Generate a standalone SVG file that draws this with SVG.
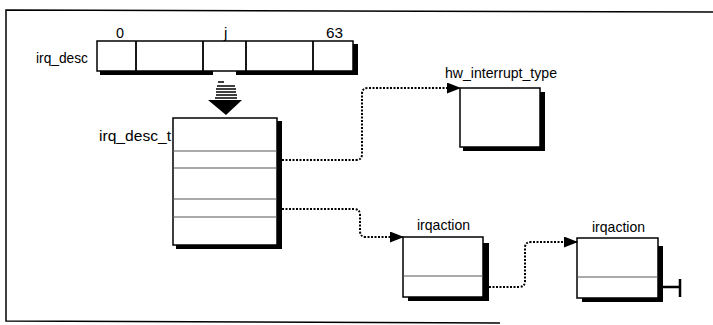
<svg xmlns="http://www.w3.org/2000/svg" width="713" height="325" viewBox="0 0 713 325">
<style>
  .lbl { font-family: "Liberation Sans", Arial, sans-serif; font-size: 14.5px; fill: #000; }
  .num { font-family: "Liberation Sans", Arial, sans-serif; font-size: 15px; fill: #000; }
  .box { fill: #fff; stroke: #000; stroke-width: 1.5; }
  .div { stroke: #555; stroke-width: 1.2; fill: none; }
  .sh { fill: #000; }
  .conn { fill: none; stroke: #000; stroke-width: 2; stroke-dasharray: 2 1.5; }
</style>
<defs>
  <marker id="arr" markerWidth="14" markerHeight="11" refX="13" refY="5.5" orient="auto" markerUnits="userSpaceOnUse">
    <path d="M0,0 L14,5.5 L0,11 Z" fill="#000"/>
  </marker>
</defs>
<rect width="713" height="325" fill="#fff"/>
<g id="frame" fill="none" stroke="#000" stroke-width="1.5">
  <path d="M713,12 L6,10 L6,321 L500,323"/>
</g>

<g id="irq_desc">
  <text class="lbl" x="36" y="63" textLength="52" lengthAdjust="spacingAndGlyphs">irq_desc</text>
  <path class="sh" d="M353,44 H358 V75 H236 V71 H353 Z"/>
  <path class="sh" d="M100,71 H213 V75 H100 Z"/>
  <rect class="box" x="97" y="41" width="256" height="30"/>
  <path d="M136,41 V71 M203,41 V71 M246,41 V71 M313,41 V71" stroke="#000" stroke-width="1.8"/>
  <text class="num" x="116" y="38" textLength="8" lengthAdjust="spacingAndGlyphs">0</text>
  <text class="num" x="224" y="38">j</text>
  <text class="num" x="326" y="38" textLength="17" lengthAdjust="spacingAndGlyphs">63</text>
</g>

<g id="index_arrow">
  <path d="M218,82 H224 M217,86 H235 M216,89 H236 M216,92 H236 M216,95 H237 M215,98 H237" stroke="#000" stroke-width="1.6"/>
  <path d="M208,100 L242,100 L226,115 Z" fill="#000"/>
</g>

<g id="irq_desc_t">
  <text class="lbl" x="99" y="141" textLength="72" lengthAdjust="spacingAndGlyphs">irq_desc_t</text>
  <path class="sh" d="M277,121 H282 V249 H176 V245 H277 Z"/>
  <rect class="box" x="173" y="118" width="104" height="127"/>
  <path class="div" d="M173,151 H277 M173,168 H277 M173,199 H277 M173,217 H277"/>
</g>

<g id="hw_interrupt_type">
  <text class="lbl" x="445" y="78" textLength="112" lengthAdjust="spacingAndGlyphs">hw_interrupt_type</text>
  <path class="sh" d="M540,92 H545 V151 H463 V147 H540 Z"/>
  <rect class="box" x="460" y="88" width="80" height="59"/>
</g>

<g id="irqaction1">
  <text class="lbl" x="417" y="230" textLength="53" lengthAdjust="spacingAndGlyphs">irqaction</text>
  <path class="sh" d="M483,243 H489 V301 H408 V297 H483 Z"/>
  <rect class="box" x="403" y="237" width="80" height="60"/>
  <path class="div" d="M403,276 H483"/>
</g>

<g id="irqaction2">
  <text class="lbl" x="592" y="232" textLength="53" lengthAdjust="spacingAndGlyphs">irqaction</text>
  <path class="sh" d="M658,246 H663 V302 H582 V298 H658 Z"/>
  <rect class="box" x="577" y="238" width="81" height="60"/>
  <path class="div" d="M577,277 H658"/>
  <path d="M663,287 H680 M680,279 V297" stroke="#000" stroke-width="2.5" fill="none"/>
</g>

<g id="connectors">
  <path class="conn" d="M282,160 H356 Q362,160 362,154 V94 Q362,88 368,88 H460" marker-end="url(#arr)"/>
  <path class="conn" d="M282,209 H354 Q360,209 360,215 V231 Q360,237 366,237 H403" marker-end="url(#arr)"/>
  <path class="conn" d="M489,287 H519 Q525,287 525,281 V248 Q525,242 531,242 H577" marker-end="url(#arr)"/>
</g>
</svg>
